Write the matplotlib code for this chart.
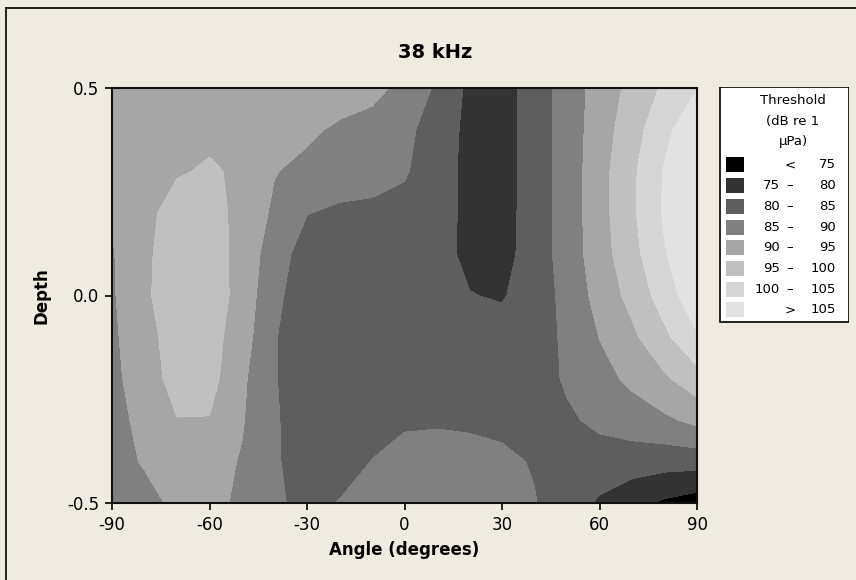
import numpy as np
import matplotlib
matplotlib.use("Agg")
import matplotlib.pyplot as plt
from matplotlib.patches import Rectangle
from matplotlib.lines import Line2D

plt.rcParams["font.family"] = ["DejaVu Sans"]
plt.rcParams["axes.unicode_minus"] = False

# Grid of measurement positions
angles = np.arange(-90, 91, 10)                      # degrees
depths = np.round(np.arange(-0.5, 0.51, 0.1), 1)     # relative depth

# Threshold (dB re 1 uPa), one row per depth from -0.5 (bottom) to 0.5 (top)
thr_m05 = [87.0, 88.5, 91.0, 91.5, 89.0, 85.4, 84.3, 85.1, 86.5, 87.0, 87.0, 86.8, 86.0, 85.2, 82.5, 79.3, 76.5, 74.2, 72.5]
thr_m04 = [88.3, 90.4, 92.5, 92.0, 89.6, 85.2, 84.2, 84.0, 85.05, 86.2, 86.8, 86.5, 85.8, 84.7, 83.8, 83.0, 82.5, 82.0, 82.0]
thr_m03 = [87.8, 91.8, 94.9, 94.8, 90.4, 85.3, 83.5, 83.5, 84.2, 84.5, 84.5, 84.3, 84.0, 83.2, 84.3, 86.0, 87.5, 89.1, 91.3]
thr_m02 = [88.4, 93.3, 96.3, 96.8, 90.9, 85.3, 82.0, 82.2, 82.3, 82.3, 82.2, 82.2, 82.3, 82.8, 85.6, 88.3, 91.1, 94.3, 98.0]
thr_m01 = [89.0, 93.6, 96.8, 97.0, 92.3, 85.3, 82.0, 82.4, 82.4, 82.3, 82.0, 81.5, 81.8, 82.2, 86.1, 90.1, 94.0, 98.9, 104.5]
thr_p00 = [89.4, 94.3, 97.5, 97.6, 93.3, 85.8, 83.0, 82.5, 82.3, 82.0, 81.2, 80.15, 79.6, 82.4, 86.4, 91.8, 96.5, 102.4, 108.5]
thr_p01 = [89.6, 94.1, 97.5, 97.8, 93.0, 87.6, 82.5, 82.2, 82.0, 82.0, 81.5, 79.0, 78.2, 82.4, 87.1, 92.8, 98.3, 104.66, 109.0]
thr_p02 = [90.4, 93.7, 96.9, 97.2, 93.3, 89.2, 85.2, 84.1, 84.1, 83.5, 81.8, 78.9, 78.0, 82.35, 87.1, 93.1, 99.1, 105.6, 109.5]
thr_p03 = [91.8, 93.2, 94.57, 95.5, 94.3, 90.2, 88.9, 87.8, 86.6, 85.5, 82.2, 78.65, 77.8, 82.3, 87.1, 93.1, 99.0, 105.4, 109.0]
thr_p04 = [92.3, 93.0, 93.8, 94.0, 93.6, 92.4, 90.8, 89.3, 87.7, 86.0, 83.2, 78.5, 77.8, 82.4, 87.2, 92.5, 97.9, 103.6, 109.0]
thr_p05 = [92.5, 93.0, 93.8, 94.2, 93.8, 93.0, 92.6, 92.2, 91.8, 88.3, 84.3, 78.9, 77.8, 82.3, 87.2, 92.0, 96.4, 100.8, 104.8]

threshold = np.array([thr_m05, thr_m04, thr_m03, thr_m02, thr_m01, thr_p00,
                      thr_p01, thr_p02, thr_p03, thr_p04, thr_p05])

# Contour bands
bounds = [75, 80, 85, 90, 95, 100, 105]
band_colors = ["#000000", "#333333", "#5e5e5e", "#808080",
               "#a6a6a6", "#c0c0c0", "#d6d6d6", "#e2e2e2"]

x_ticks = [-90, -60, -30, 0, 30, 60, 90]
y_ticks = [-0.5, 0.0, 0.5]
y_tick_labels = ["-0.5", "0.0", "0.5"]

W, H = 856, 580
bg = "#efebe1"
fig = plt.figure(figsize=(W / 100, H / 100), dpi=100, facecolor=bg)

# frame around the graph region
fig.add_artist(Line2D([6 / W, 6 / W], [-0.02, 1 - 8 / H], color="black", lw=1.2,
                      transform=fig.transFigure))
fig.add_artist(Line2D([6 / W, 1.02], [1 - 8 / H, 1 - 8 / H], color="black", lw=1.2,
                      transform=fig.transFigure))

ax = fig.add_axes([112 / W, 1 - 503 / H, (697 - 112) / W, (503 - 88) / H])
levels = [threshold.min() - 10] + bounds + [threshold.max() + 10]
ax.contourf(angles, depths, threshold, levels=levels, colors=band_colors)
ax.set_xlim(-90, 90)
ax.set_ylim(-0.5, 0.5)
ax.set_xticks(x_ticks)
ax.set_xticklabels([str(v) for v in x_ticks])
ax.set_yticks(y_ticks)
ax.set_yticklabels(y_tick_labels)
ax.tick_params(direction="out", length=5, width=1.2, labelsize=12, pad=4, colors="black")
for s in ax.spines.values():
    s.set_linewidth(1.5)
    s.set_color("#111111")

fig.text(435 / W, 1 - 52 / H, "38 kHz", ha="center", va="center",
         fontsize=14, fontweight="bold")
fig.text(404 / W, 1 - 550 / H, "Angle (degrees)", ha="center", va="center",
         fontsize=12, fontweight="bold")
fig.text(42 / W, 1 - 296 / H, "Depth", ha="center", va="center", rotation=90,
         fontsize=12, fontweight="bold")

# legend panel (pixel coordinates relative to its top-left corner)
lx, ly, lw, lh = 719, 87, 130, 236
lax = fig.add_axes([lx / W, 1 - (ly + lh) / H, lw / W, lh / H])
lax.set_xlim(0, lw)
lax.set_ylim(lh, 0)
lax.axis("off")
lax.add_patch(Rectangle((0.5, 0.5), lw - 1, lh - 1, facecolor="white",
                        edgecolor="black", lw=1.2))
for i, line in enumerate(["Threshold", "(dB re 1", "\u03bcPa)"]):
    lax.text(74, 14 + 20.5 * i, line, ha="center", va="center", fontsize=9.5)

labels = []
labels.append(("", "<", str(bounds[0])))
for a, b in zip(bounds[:-1], bounds[1:]):
    labels.append((str(a), "\u2013", str(b)))
labels.append(("", ">", str(bounds[-1])))

for i, (col, (lo, mid, hi)) in enumerate(zip(band_colors, labels)):
    cy = 78 + 20.7 * i
    lax.add_patch(Rectangle((7, cy - 7.5), 18, 15, facecolor=col, edgecolor="none"))
    if lo:
        lax.text(61, cy, lo, ha="right", va="center", fontsize=9.5)
    lax.text(71, cy, mid, ha="center", va="center", fontsize=9.5)
    lax.text(117, cy, hi, ha="right", va="center", fontsize=9.5)

fig.savefig("out.png", dpi=100, facecolor=bg)
